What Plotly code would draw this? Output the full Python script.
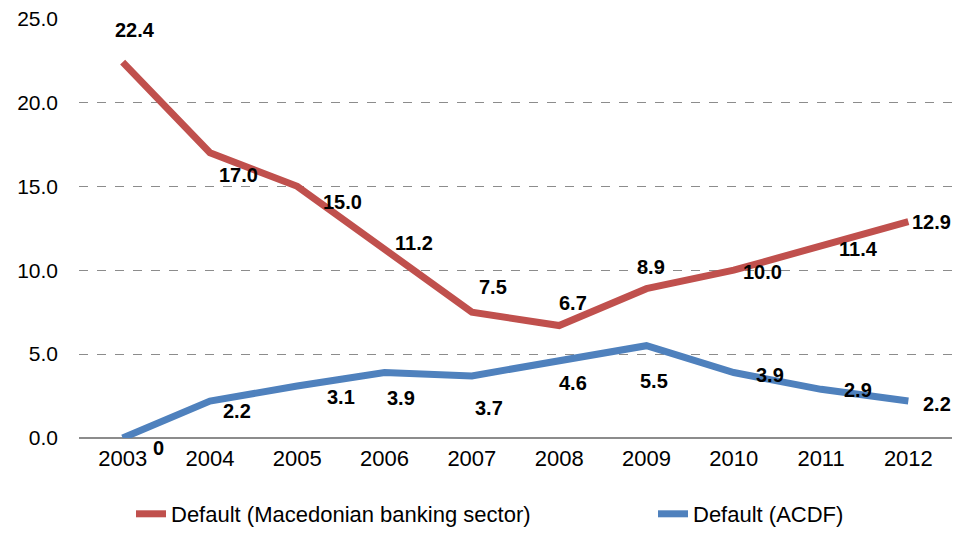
import plotly.graph_objects as go

years = ["2003", "2004", "2005", "2006", "2007", "2008", "2009", "2010", "2011", "2012"]
banking = [22.4, 17.0, 15.0, 11.2, 7.5, 6.7, 8.9, 10.0, 11.4, 12.9]
acdf = [0, 2.2, 3.1, 3.9, 3.7, 4.6, 5.5, 3.9, 2.9, 2.2]
acdf_text = ["0", "2.2", "3.1", "3.9", "3.7", "4.6", "5.5", "3.9", "2.9", "2.2"]
y_ticks = [0, 5, 10, 15, 20, 25]

# label pixel offsets (dx right, dy down) - styling only
bank_off = [(12, -32), (29, 22), (45, 16), (29, -7), (21, -25), (14, -23), (5, -22), (29, 2), (37, 2), (23, 0)]
acdf_off = [(36, 10), (27, 10), (44, 11), (16, 25), (17, 32), (14, 22), (8, 35), (36, 2), (37, 1), (29, 3)]

RED = "#C0504D"
BLUE = "#4F81BD"
FONT = "Liberation Sans, Arial, sans-serif"
OFF = 8  # default page margin of the browser
W, H = 961 - OFF, 540 - 2 * OFF

fig = go.Figure()
fig.add_trace(go.Scatter(x=years, y=banking, mode="lines", name="Default (Macedonian banking sector)",
                         line=dict(color=RED, width=7), legend="legend"))
fig.add_trace(go.Scatter(x=years, y=acdf, mode="lines", name="Default (ACDF)",
                         line=dict(color=BLUE, width=7), legend="legend2"))

anns = []
for i, v in enumerate(banking):
    dx, dy = bank_off[i]
    anns.append(dict(x=i, y=v, xref="x", yref="y", text=f"<b>{v:.1f}</b>", showarrow=False,
                     xshift=dx, yshift=-dy, font=dict(size=20, color="black", family=FONT)))
for i, v in enumerate(acdf):
    dx, dy = acdf_off[i]
    anns.append(dict(x=i, y=v, xref="x", yref="y", text=f"<b>{acdf_text[i]}</b>", showarrow=False,
                     xshift=dx, yshift=-dy, font=dict(size=20, color="black", family=FONT)))

legend_common = dict(orientation="h", xref="container", yref="container", xanchor="left",
                     y=1 - (514 - OFF) / H, yanchor="middle", font=dict(size=22),
                     bgcolor="rgba(0,0,0,0)")

fig.update_layout(
    width=W, height=H,
    margin=dict(l=79 - OFF, r=W - (952 - OFF), t=18 - OFF, b=H - (438 - OFF), autoexpand=False),
    paper_bgcolor="white", plot_bgcolor="white",
    font=dict(family=FONT, size=22, color="black"),
    annotations=anns,
    showlegend=True,
    legend=dict(x=(131 - OFF) / W, **legend_common),
    legend2=dict(x=(653 - OFF) / W, **legend_common),
    xaxis=dict(type="category", range=[-0.5, 9.5], showgrid=False, showline=False, ticks="",
               tickfont=dict(size=22), zeroline=False, ticklabelstandoff=5),
    yaxis=dict(range=[0, 25.03], tickvals=y_ticks, ticktext=[f"{t:.1f}" for t in y_ticks],
               showgrid=True, gridcolor="#8c8c8c", griddash="dash", gridwidth=1,
               zeroline=True, zerolinecolor="#8c8c8c", zerolinewidth=1.5,
               showline=False, ticks="", tickfont=dict(size=21), ticklabelstandoff=20,
               ticklabeloverflow="allow"),
)
fig.write_html("out.html")
